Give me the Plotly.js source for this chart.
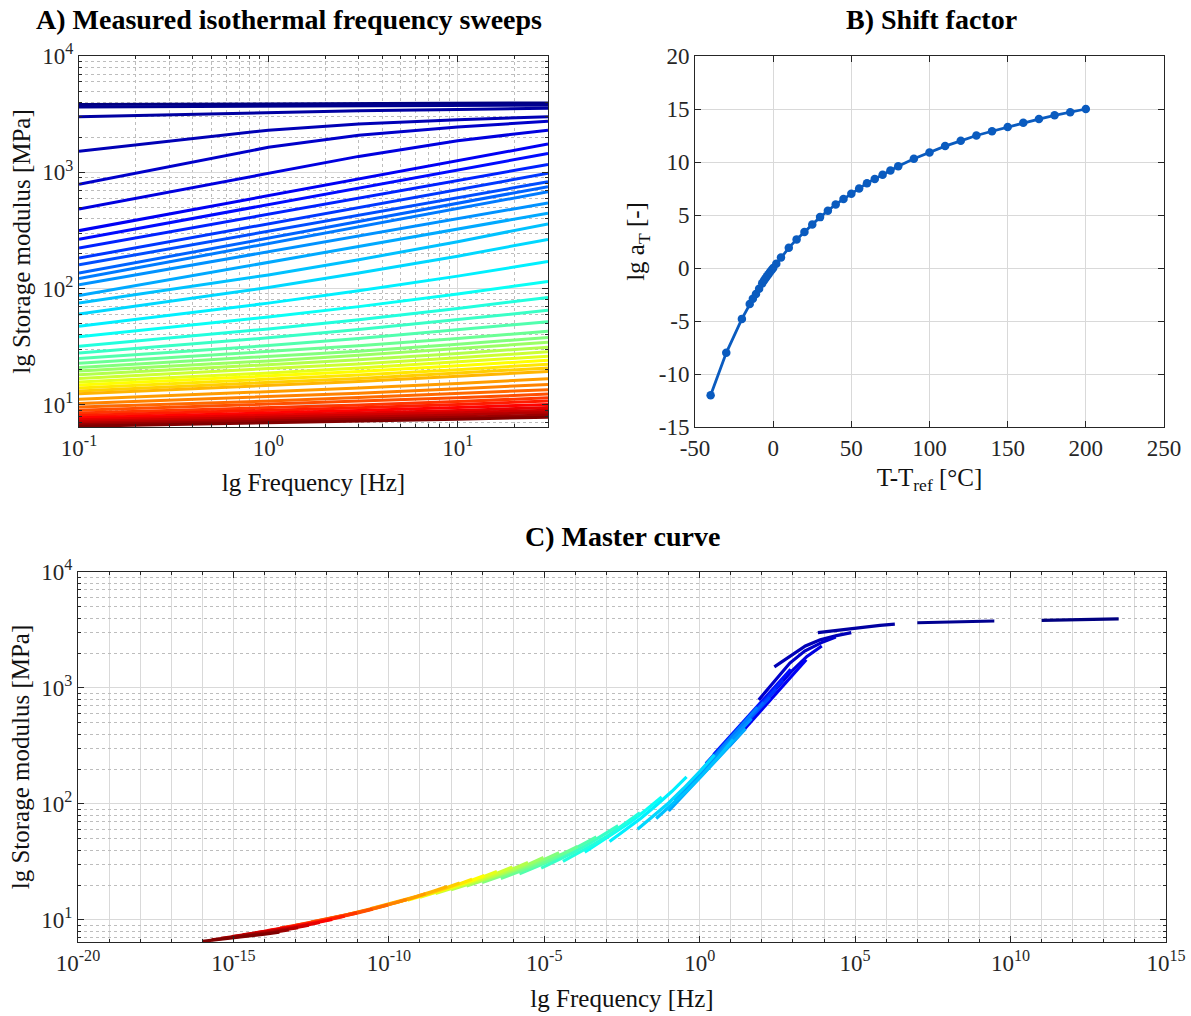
<!DOCTYPE html>
<html><head><meta charset="utf-8">
<script src="https://cdn.plot.ly/plotly-3.0.1.min.js"></script>
<style>body{margin:0;background:#fff}#chart{width:1191px;height:1016px}</style>
</head><body><div id="chart"></div>
<script>
// ---- data ----
const freqs = [0.1, 1, 3, 10, 30];            // Hz, measured frequencies
const tempDiff = [-40,-30,-20,-15,-13,-11,-9,-7,-6,-5,-4,-3,-2,-1,0,2,5,10,15,20,25,30,35,40,45,50,55,60,65,70,75,80,90,100,110,120,130,140,150,160,170,180,190,200]; // T-Tref [°C]
const lgShift = [-12,-8,-4.8,-3.4,-2.9,-2.45,-1.95,-1.45,-1.2,-0.98,-0.78,-0.58,-0.38,-0.19,0,0.4,1.0,1.9,2.7,3.4,4.1,4.8,5.4,6.0,6.5,7.0,7.5,8.0,8.4,8.8,9.2,9.6,10.3,10.9,11.5,12.0,12.5,12.9,13.3,13.7,14.05,14.4,14.7,15.0]; // lg aT
const E_0p1Hz = [3830,3650,3000,1520,790,484,315,266,223,183,160,136,122,108,87,75,60.5,47.4,38.5,32,28,25,22.8,21,19.6,18.2,16.9,15.7,14.8,14,13.2,12.5,11.2,10.3,9.6,9.0,8.5,8.1,7.75,7.45,7.2,6.95,6.75,6.55];
const E_1Hz   = [3880,3710,3250,2300,1640,980,630,527,435,360,311,272,244,208,168,131,102,75,57,45,37.8,32.4,28.6,25.9,23.9,22,20.4,18.8,17.6,16.6,15.5,14.6,12.9,11.8,10.8,10.1,9.46,8.97,8.51,8.11,7.8,7.5,7.23,6.98];
const E_3Hz   = [3900,3735,3380,2600,2080,1370,875,731,598,497,427,378,340,283,230,177,136,96,70,54,44.4,37.3,32.3,29,26.7,24.4,22.5,20.8,19.4,18.1,16.9,15.9,14,12.6,11.6,10.7,10,9.46,8.95,8.51,8.13,7.82,7.5,7.23];
const E_10Hz  = [3930,3760,3470,2830,2450,1870,1255,1045,849,708,604,542,489,398,324,253,190,128,90,67.5,53.8,44.2,37.3,33.3,30.3,27.7,25.4,23.3,21.7,20.1,18.8,17.6,15.3,13.8,12.5,11.5,10.7,10.1,9.51,8.97,8.55,8.2,7.84,7.53];
const E_30Hz  = [3950,3780,3550,3000,2750,2300,1750,1450,1170,980,830,753,680,545,445,360,265,171,115,84,65,52,43,38,34.5,31.3,28.6,26.2,24.2,22.4,20.8,19.4,16.8,15,13.5,12.4,11.5,10.8,10.1,9.5,9.0,8.6,8.2,7.85];
const logTickValsA_x = [0.1, 1, 10];
const logTickTextA_x = ['10<sup>-1</sup>','10<sup>0</sup>','10<sup>1</sup>'];
const logTickValsE = [10, 100, 1000, 10000];
const logTickTextE = ['10<sup>1</sup>','10<sup>2</sup>','10<sup>3</sup>','10<sup>4</sup>'];
const tickValsB_x = [-50,0,50,100,150,200,250];
const tickTextB_x = ['-50','0','50','100','150','200','250'];
const tickValsB_y = [-15,-10,-5,0,5,10,15,20];
const tickTextB_y = ['-15','-10','-5','0','5','10','15','20'];
const expC = [-20,-15,-10,-5,0,5,10,15];

// ---- helpers ----
const W = 1191, H = 1016;
const FONT = 'Liberation Serif, Times New Roman, serif';
const clamp = v => Math.max(0, Math.min(1, v));
function jet(t){
  const r = clamp(1.5 - Math.abs(4*t - 3)), g = clamp(1.5 - Math.abs(4*t - 2)), b = clamp(1.5 - Math.abs(4*t - 1));
  return 'rgb(' + Math.round(r*255) + ',' + Math.round(g*255) + ',' + Math.round(b*255) + ')';
}
const N = tempDiff.length;
const colorOf = i => jet(Math.pow(i/(N-1), 1.1));
const cols = [E_0p1Hz, E_1Hz, E_3Hz, E_10Hz, E_30Hz];

const traces = [];
// Panel A: isothermal sweeps
for (let i = 0; i < N; i++) {
  traces.push({x: freqs, y: cols.map(c => c[i]), type: 'scatter', mode: 'lines',
    line: {color: colorOf(i), width: 3}, xaxis: 'x', yaxis: 'y', showlegend: false, hoverinfo: 'skip'});
}
// Panel B: shift factor
traces.push({x: tempDiff, y: lgShift, type: 'scatter', mode: 'lines+markers',
  line: {color: '#0a5bbf', width: 2.8}, marker: {color: '#0a5bbf', size: 8.5},
  xaxis: 'x2', yaxis: 'y2', showlegend: false, hoverinfo: 'skip'});
// Panel C: master curve (sweeps shifted by lg aT)
for (let i = 0; i < N; i++) {
  traces.push({x: freqs.map(f => f * Math.pow(10, -lgShift[i])), y: cols.map(c => c[i]), type: 'scatter', mode: 'lines',
    line: {color: colorOf(i), width: 3.2}, xaxis: 'x3', yaxis: 'y3', showlegend: false, hoverinfo: 'skip'});
}

// minor tick positions
const minorA_x = []; [0.1, 1, 10].forEach(d => { for (let k = 2; k <= 9; k++) if (d*k <= 30) minorA_x.push(d*k); });
const minorE = []; [1, 10, 100, 1000].forEach(d => { for (let k = 2; k <= 9; k++) minorE.push(d*k); });
const minorC_x = []; for (let e = -20; e <= 15; e++) if (e % 5 !== 0) minorC_x.push(Math.pow(10, e));

const axLine = '#262626', gridMajor = '#d9d9d9', gridMinor = '#bdbdbd';
const tickFont = {family: FONT, size: 23, color: '#262626'};
const titleFont = {family: FONT, size: 25, color: '#111'};
function baseAxis(extra){
  return Object.assign({showline: true, linecolor: axLine, linewidth: 1, mirror: 'allticks', ticks: 'inside',
    ticklen: 6, tickcolor: axLine, tickfont: tickFont, showgrid: true, gridcolor: gridMajor, gridwidth: 1,
    zeroline: false, automargin: false}, extra);
}
const dx = px => px / W, dy = px => 1 - px / H;

const layout = {
  width: W, height: H, margin: {l: 0, r: 0, t: 0, b: 0}, paper_bgcolor: '#fff', plot_bgcolor: '#fff',
  hovermode: false, showlegend: false, font: {family: FONT},
  xaxis: baseAxis({domain: [dx(79), dx(548)], anchor: 'y', type: 'log', range: [-1, Math.log10(30)],
    tickmode: 'array', tickvals: logTickValsA_x, ticktext: logTickTextA_x,
    minor: {tickmode: 'array', tickvals: minorA_x, ticks: 'inside', ticklen: 3, tickcolor: axLine, showgrid: true, gridcolor: gridMinor, griddash: 'dot'},
    title: {text: 'lg Frequency [Hz]', font: titleFont, standoff: 13}}),
  yaxis: baseAxis({domain: [dy(427), dy(56)], anchor: 'x', type: 'log', range: [0.81, 4],
    tickmode: 'array', tickvals: logTickValsE, ticktext: logTickTextE,
    minor: {tickmode: 'array', tickvals: minorE, ticks: 'inside', ticklen: 3, tickcolor: axLine, showgrid: true, gridcolor: gridMinor, griddash: 'dot'},
    title: {text: 'lg Storage modulus [MPa]', font: titleFont, standoff: 4}}),
  xaxis2: baseAxis({domain: [dx(695), dx(1164)], anchor: 'y2', range: [-50, 250],
    tickmode: 'array', tickvals: tickValsB_x, ticktext: tickTextB_x,
    title: {text: 'T-T<sub>ref</sub> [°C]', font: titleFont, standoff: 8}}),
  yaxis2: baseAxis({domain: [dy(427), dy(56)], anchor: 'x2', range: [-15, 20],
    tickmode: 'array', tickvals: tickValsB_y, ticktext: tickTextB_y,
    title: {text: 'lg a<sub>T</sub> [-]', font: titleFont, standoff: 6}}),
  xaxis3: baseAxis({domain: [dx(78), dx(1166)], anchor: 'y3', type: 'log', range: [-20, 15],
    tickmode: 'array', tickvals: expC.map(e => Math.pow(10, e)), ticktext: expC.map(e => '10<sup>' + e + '</sup>'),
    minor: {tickmode: 'array', tickvals: minorC_x, ticks: 'inside', ticklen: 3, tickcolor: axLine, showgrid: true, gridcolor: gridMajor},
    title: {text: 'lg Frequency [Hz]', font: titleFont, standoff: 14}}),
  yaxis3: baseAxis({domain: [dy(942), dy(572)], anchor: 'x3', type: 'log', range: [0.81, 4],
    tickmode: 'array', tickvals: logTickValsE, ticktext: logTickTextE,
    minor: {tickmode: 'array', tickvals: minorE, ticks: 'inside', ticklen: 3, tickcolor: axLine, showgrid: true, gridcolor: gridMinor, griddash: 'dot'},
    title: {text: 'lg Storage modulus [MPa]', font: titleFont, standoff: 4}}),
  annotations: [
    {text: '<b>A) Measured isothermal frequency sweeps</b>', xref: 'paper', yref: 'paper', x: dx(289), y: dy(20), xanchor: 'center', yanchor: 'middle', showarrow: false, font: {family: FONT, size: 28, color: '#000'}},
    {text: '<b>B) Shift factor</b>', xref: 'paper', yref: 'paper', x: dx(931), y: dy(20), xanchor: 'center', yanchor: 'middle', showarrow: false, font: {family: FONT, size: 28, color: '#000'}},
    {text: '<b>C) Master curve</b>', xref: 'paper', yref: 'paper', x: dx(622), y: dy(536), xanchor: 'center', yanchor: 'middle', showarrow: false, font: {family: FONT, size: 28, color: '#000'}}
  ]
};

Plotly.newPlot('chart', traces, layout, {displayModeBar: false, staticPlot: true});
</script></body></html>
